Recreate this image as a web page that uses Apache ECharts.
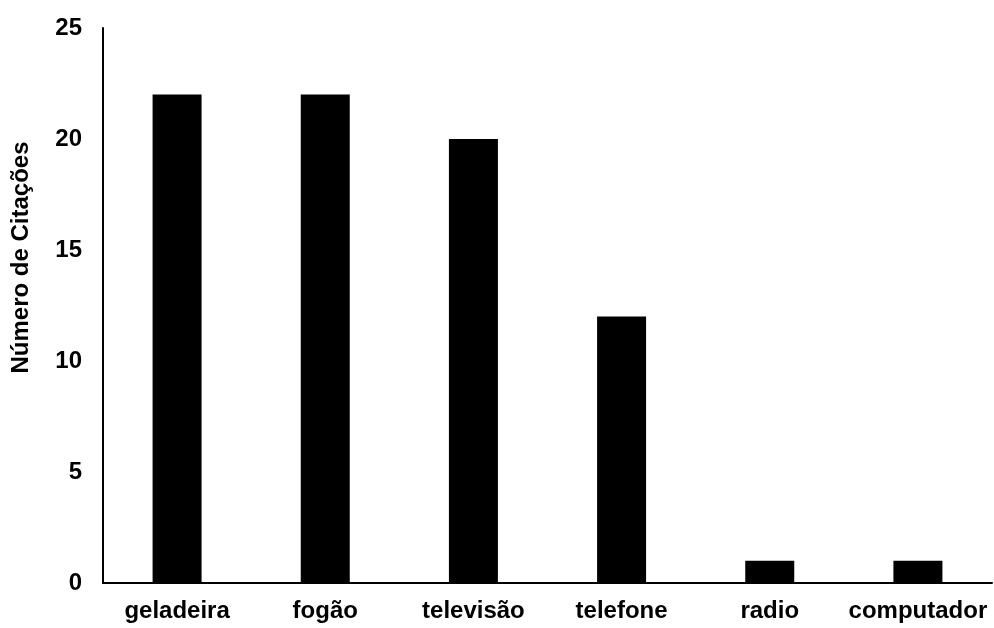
<!DOCTYPE html>
<html>
<head>
<meta charset="utf-8">
<script src="https://cdn.jsdelivr.net/npm/echarts@6/dist/echarts.min.js"></script>
<style>
html,body{margin:0;padding:0;background:#fff;}
#chart{width:994px;height:628px;}
</style>
</head>
<body>
<div id="chart"></div>
<script>
const categories = ['geladeira', 'fogão', 'televisão', 'telefone', 'radio', 'computador'];
const citations = [22, 22, 20, 12, 1, 1];
const yTitle = 'Número de Citações';

const FONT = '"Liberation Sans", Arial, sans-serif';
const chart = echarts.init(document.getElementById('chart'), null, {renderer: 'canvas'});
chart.setOption({
  animation: false,
  backgroundColor: '#ffffff',
  grid: {left: 103, right: 2, top: 28, bottom: 45, containLabel: false},
  xAxis: {
    type: 'category',
    data: categories,
    axisLine: {show: true, lineStyle: {color: '#000', width: 2}},
    axisTick: {show: false},
    axisLabel: {color: '#000', fontWeight: 'bold', fontSize: 24, fontFamily: FONT, margin: 16, interval: 0, hideOverlap: false},
    splitLine: {show: false}
  },
  yAxis: {
    type: 'value',
    min: 0, max: 25, interval: 5,
    name: yTitle,
    nameLocation: 'middle',
    nameGap: 70,
    nameTextStyle: {color: '#000', fontWeight: 'bold', fontSize: 24, fontFamily: FONT, padding: [0, 0, 0, 96]},
    axisLine: {show: true, lineStyle: {color: '#000', width: 2}},
    axisTick: {show: false},
    axisLabel: {color: '#000', fontWeight: 'bold', fontSize: 24, fontFamily: FONT, margin: 21},
    splitLine: {show: false}
  },
  series: [{
    type: 'bar',
    data: citations,
    barWidth: 49,
    itemStyle: {color: '#000'}
  }]
});
</script>
</body>
</html>
